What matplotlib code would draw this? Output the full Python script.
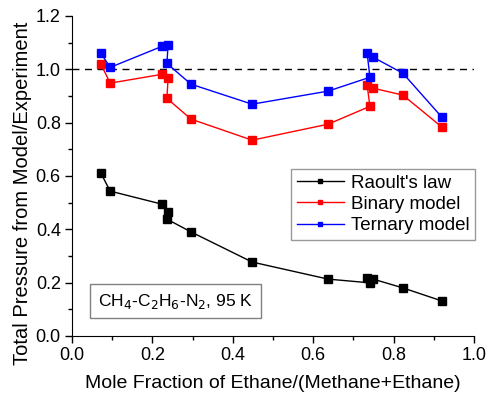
import matplotlib
matplotlib.use("Agg")
import matplotlib.pyplot as plt
from matplotlib.ticker import MultipleLocator

plt.rcParams['font.family'] = ['Liberation Sans', 'DejaVu Sans']

x_raoult = [0.072, 0.095, 0.224, 0.239, 0.236, 0.296, 0.448, 0.637, 0.741, 0.734, 0.749, 0.823, 0.920]
y_raoult = [0.610, 0.543, 0.494, 0.464, 0.438, 0.390, 0.277, 0.213, 0.199, 0.217, 0.213, 0.180, 0.131]

x_binary = [0.072, 0.095, 0.224, 0.239, 0.236, 0.296, 0.448, 0.637, 0.741, 0.734, 0.749, 0.823, 0.920]
y_binary = [1.019, 0.948, 0.981, 0.966, 0.891, 0.813, 0.734, 0.794, 0.861, 0.940, 0.929, 0.903, 0.783]

x_ternary = [0.072, 0.095, 0.224, 0.239, 0.236, 0.296, 0.448, 0.637, 0.741, 0.734, 0.749, 0.823, 0.920]
y_ternary = [1.060, 1.007, 1.086, 1.090, 1.022, 0.944, 0.869, 0.918, 0.970, 1.060, 1.045, 0.985, 0.820]

fig = plt.figure(figsize=(4.88, 3.98), dpi=100)
ax = fig.add_axes([0.1475, 0.156, 0.824, 0.804])

ax.axhline(1.0, color='black', linestyle=(0, (5, 4)), linewidth=1.0, zorder=1)

ms = 6
ax.plot(x_raoult, y_raoult, '-s', color='black', lw=1.0, ms=ms, label="Raoult's law")
ax.plot(x_binary, y_binary, '-s', color='#ff0000', lw=1.0, ms=ms, label="Binary model")
ax.plot(x_ternary, y_ternary, '-s', color='#0000ff', lw=1.0, ms=ms, label="Ternary model")

ax.set_xlim(0.0, 1.0)
ax.set_ylim(0.0, 1.2)
ax.xaxis.set_major_locator(MultipleLocator(0.2))
ax.xaxis.set_minor_locator(MultipleLocator(0.1))
ax.yaxis.set_major_locator(MultipleLocator(0.2))
ax.yaxis.set_minor_locator(MultipleLocator(0.1))
ax.xaxis.set_major_formatter(plt.FormatStrFormatter('%.1f'))
ax.yaxis.set_major_formatter(plt.FormatStrFormatter('%.1f'))
ax.tick_params(which='major', direction='out', length=5, width=1, labelsize=13, pad=3)
ax.tick_params(which='minor', direction='out', length=3, width=1)
ax.spines['top'].set_visible(False)
ax.spines['right'].set_visible(False)

ax.set_xlabel('Mole Fraction of Ethane/(Methane+Ethane)', fontsize=14, labelpad=8)
ax.set_ylabel('Total Pressure from Model/Experiment', fontsize=14.5, va='center')
ax.yaxis.set_label_coords(-0.124, 0.445)

leg = ax.legend(loc='upper right', bbox_to_anchor=(1.003, 0.522), fontsize=13.5,
                frameon=True, fancybox=False, edgecolor='#808080',
                handlelength=2.5, handletextpad=0.4, borderpad=0.3, labelspacing=0.22,
                borderaxespad=0.0, markerscale=0.6)
leg.get_frame().set_linewidth(1.0)

ax.text(0.065, 0.095, r'CH$_4$-C$_2$H$_6$-N$_2$, 95 K', transform=ax.transAxes, fontsize=12.5,
        bbox=dict(boxstyle='square,pad=0.45', facecolor='white', edgecolor='#808080', linewidth=1.0))

fig.savefig('out.png', dpi=100)
